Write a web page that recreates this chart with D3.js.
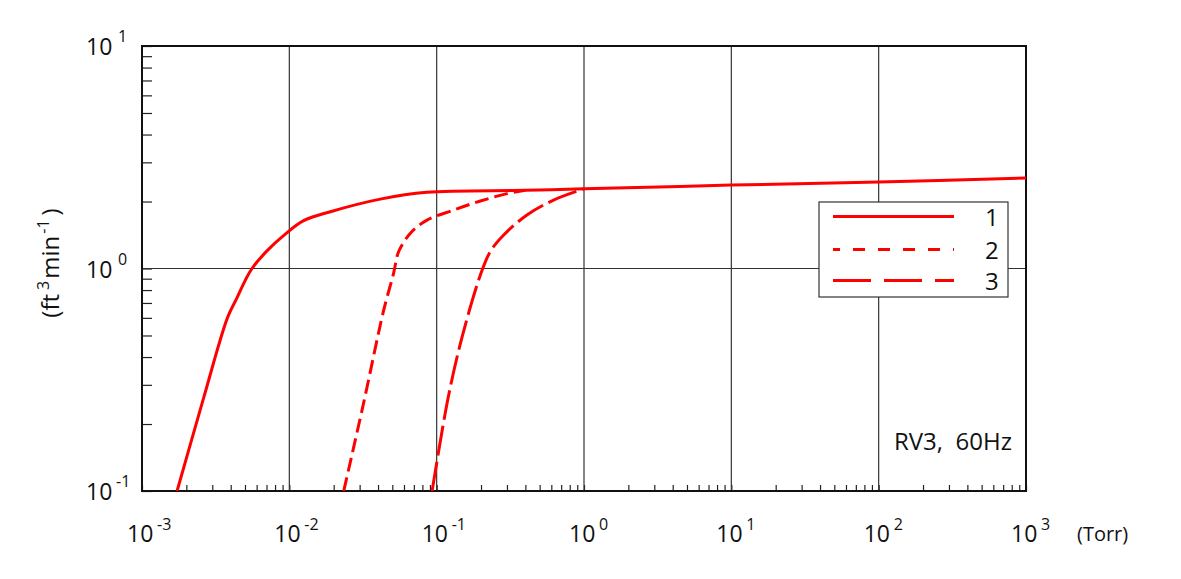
<!DOCTYPE html>
<html><head><meta charset="utf-8">
<script src="https://cdn.jsdelivr.net/npm/d3@7"></script>
<style>
body{margin:0;background:#fff;}
text{font-family:"Open Sans","Noto Sans",sans-serif;fill:#111;}
</style></head><body>
<svg id="chart" width="1181" height="579"></svg>
<script>
// ---- data ----
const xExponents = [-3, -2, -1, 0, 1, 2, 3];
const yExponents = [-1, 0, 1];
const seriesNames = ["1", "2", "3"];
const s1Pressure = [0.00173, 0.00262, 0.00380, 0.00442, 0.00503, 0.00558, 0.00705, 0.0093, 0.0125, 0.019, 0.0414, 0.0859, 0.40, 1.0, 10, 100, 1000];
const s1Speed    = [0.10,    0.262,   0.60,    0.74,    0.887,   1.00,    1.20,    1.42,   1.64,   1.80,  2.05,   2.20,   2.245, 2.28, 2.37, 2.45, 2.55];
const s2Pressure = [0.0234, 0.0319, 0.0437, 0.051, 0.0552, 0.0663, 0.0859, 0.130, 0.198, 0.30, 0.40];
const s2Speed    = [0.10,   0.248,  0.65,   0.951, 1.19,   1.44,   1.65,   1.83,  2.01,  2.17, 2.245];
const s3Pressure = [0.0931, 0.120, 0.149, 0.198, 0.231, 0.284, 0.410, 0.622, 1.0];
const s3Speed    = [0.10,   0.265, 0.494, 0.935, 1.19,  1.41,  1.74,  2.03,  2.28];
const annotation = "RV3,  60Hz";
const xUnit = "(Torr)";

// ---- layout ----
const L = 142, R = 1026, T = 46, B = 491;
const svg = d3.select("#chart");
const x = d3.scaleLog().domain([1e-3, 1e3]).range([L, R]);
const y = d3.scaleLog().domain([1e-1, 1e1]).range([B, T]);

// minor ticks (inward)
svg.append("g").attr("transform", `translate(0,${B})`)
  .call(d3.axisBottom(x).tickSize(-6).tickFormat(""))
  .call(g => { g.select(".domain").remove(); g.selectAll("line").attr("stroke", "#222").attr("stroke-width", 1.2); });
svg.append("g").attr("transform", `translate(${L},0)`)
  .call(d3.axisLeft(y).tickSize(-10).tickFormat(""))
  .call(g => { g.select(".domain").remove(); g.selectAll("line").attr("stroke", "#222").attr("stroke-width", 1.2); });

// grid lines
svg.append("g").selectAll("line").data(xExponents.slice(1, -1)).join("line")
  .attr("x1", d => x(Math.pow(10, d))).attr("x2", d => x(Math.pow(10, d)))
  .attr("y1", T).attr("y2", B).attr("stroke", "#333").attr("stroke-width", 1.2);
svg.append("g").selectAll("line").data(yExponents.slice(1, -1)).join("line")
  .attr("y1", d => y(Math.pow(10, d))).attr("y2", d => y(Math.pow(10, d)))
  .attr("x1", L).attr("x2", R).attr("stroke", "#333").attr("stroke-width", 1.2);

// frame
svg.append("rect").attr("x", L).attr("y", T).attr("width", R - L).attr("height", B - T)
  .attr("fill", "none").attr("stroke", "#111").attr("stroke-width", 2);

// series
const line = d3.line().x(d => x(d[0])).y(d => y(d[1])).curve(d3.curveCatmullRom.alpha(0.5));
const series = [
  { pts: d3.zip(s1Pressure, s1Speed), dash: null, name: seriesNames[0] },
  { pts: d3.zip(s2Pressure, s2Speed), dash: "14,6", name: seriesNames[1] },
  { pts: d3.zip(s3Pressure, s3Speed), dash: "30,6", name: seriesNames[2] }
];
svg.append("defs").append("clipPath").attr("id", "clip")
  .append("rect").attr("x", L).attr("y", T).attr("width", R - L).attr("height", B - T);
svg.append("g").attr("clip-path", "url(#clip)").selectAll("path").data(series).join("path")
  .attr("d", d => line(d.pts)).attr("fill", "none").attr("stroke", "#ff0000")
  .attr("stroke-width", 3).attr("stroke-dasharray", d => d.dash);

// x labels
const xl = svg.append("g");
xExponents.forEach(e => {
  const px = x(Math.pow(10, e));
  xl.append("text").attr("x", px - 15).attr("y", 542).attr("font-size", 23).text("10");
  xl.append("text").attr("x", px + 15).attr("y", 530).attr("font-size", 16).text(e < 0 ? "-" + Math.abs(e) : String(e));
});
svg.append("text").attr("x", 1077).attr("y", 541).attr("font-size", 20).text(xUnit);

// y labels
yExponents.forEach(e => {
  const py = y(Math.pow(10, e));
  svg.append("text").attr("x", 86).attr("y", py + 9).attr("font-size", 23).text("10");
  svg.append("text").attr("x", e < 0 ? 116 : 118).attr("y", py - 4).attr("font-size", 16).text(e < 0 ? "-" + Math.abs(e) : String(e));
});

// y title
const yt = svg.append("text").attr("transform", "translate(59,263) rotate(-90)")
  .attr("text-anchor", "middle").attr("font-size", 24);
yt.append("tspan").text("(ft");
yt.append("tspan").attr("font-size", 16).attr("dy", -10).attr("dx", 4).text("3");
yt.append("tspan").attr("dy", 10).attr("dx", 2).text("min");
yt.append("tspan").attr("font-size", 16).attr("dy", -10).attr("dx", 2).text("-1");
yt.append("tspan").attr("dy", 10).attr("dx", 4).text(")");

// annotation
svg.append("text").attr("x", 894).attr("y", 450).attr("font-size", 24)
  .style("white-space", "pre").text(annotation);

// legend
const lg = svg.append("g");
lg.append("rect").attr("x", 819).attr("y", 202).attr("width", 189).attr("height", 95)
  .attr("fill", "#fff").attr("stroke", "#333").attr("stroke-width", 1.2);
const legendY = [216.5, 249.5, 280.5];
const legendDash = [null, "12,13", "38,13"];
const legendOffset = [0, 5, 0];
series.forEach((s, i) => {
  lg.append("line").attr("x1", 833).attr("x2", 954).attr("y1", legendY[i]).attr("y2", legendY[i])
    .attr("stroke", "#ff0000").attr("stroke-width", 3)
    .attr("stroke-dasharray", legendDash[i]).attr("stroke-dashoffset", legendOffset[i]);
  lg.append("text").attr("x", 985).attr("y", legendY[i] + 9).attr("font-size", 24).text(s.name);
});
</script></body></html>
